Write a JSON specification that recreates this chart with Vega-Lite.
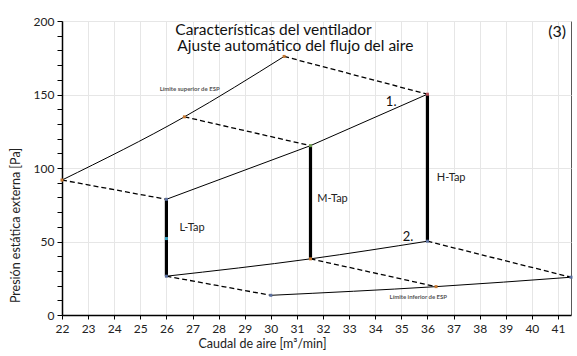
{
  "$schema": "https://vega.github.io/schema/vega-lite/v6.json",
  "width": 509,
  "height": 294,
  "autosize": {"type": "none"},
  "padding": {"left": 62, "top": 21, "right": 6, "bottom": 41},
  "background": "white",
  "config": {
    "font": "Lato",
    "view": {"stroke": "#595959", "strokeWidth": 1},
    "axis": {"labelFont": "Lato", "titleFont": "Lato", "labelColor": "#222", "titleColor": "#222", "titleFontWeight": "normal", "domainColor": "#000", "tickColor": "#000", "gridColor": "#e6e6e6"}
  },
  "datasets": {
    "lines": [
      {"s": "sup", "t": "solid", "o": 1, "x": 22, "y": 91.8},
      {"s": "sup", "t": "solid", "o": 2, "x": 26.69, "y": 134.8},
      {"s": "sup", "t": "solid", "o": 3, "x": 30.51, "y": 175.9},
      {"s": "high", "t": "solid", "o": 1, "x": 31.52, "y": 115.2},
      {"s": "high", "t": "solid", "o": 2, "x": 36, "y": 150.2},
      {"s": "med", "t": "solid", "o": 1, "x": 26, "y": 78.7},
      {"s": "med", "t": "solid", "o": 2, "x": 31.52, "y": 115.2},
      {"s": "low", "t": "solid", "o": 1, "x": 26, "y": 26.4},
      {"s": "low", "t": "solid", "o": 2, "x": 31.52, "y": 38.2},
      {"s": "low", "t": "solid", "o": 3, "x": 36, "y": 50.2},
      {"s": "inf", "t": "solid", "o": 1, "x": 30, "y": 13.4},
      {"s": "inf", "t": "solid", "o": 2, "x": 36.33, "y": 19.3},
      {"s": "inf", "t": "solid", "o": 3, "x": 41.5, "y": 25.7},
      {"s": "d1", "t": "dash", "o": 1, "x": 30.51, "y": 175.9},
      {"s": "d1", "t": "dash", "o": 2, "x": 36, "y": 150.2},
      {"s": "d2", "t": "dash", "o": 1, "x": 26.69, "y": 134.8},
      {"s": "d2", "t": "dash", "o": 2, "x": 31.52, "y": 115.2},
      {"s": "d3", "t": "dash", "o": 1, "x": 22, "y": 91.8},
      {"s": "d3", "t": "dash", "o": 2, "x": 26, "y": 78.7},
      {"s": "d4", "t": "dash", "o": 1, "x": 26, "y": 26.4},
      {"s": "d4", "t": "dash", "o": 2, "x": 30, "y": 13.4},
      {"s": "d5", "t": "dash", "o": 1, "x": 31.52, "y": 38.2},
      {"s": "d5", "t": "dash", "o": 2, "x": 36.33, "y": 19.3},
      {"s": "d6", "t": "dash", "o": 1, "x": 36, "y": 50.2},
      {"s": "d6", "t": "dash", "o": 2, "x": 41.5, "y": 25.7},
      {"s": "v1", "t": "thick", "o": 1, "x": 26, "y": 78.7},
      {"s": "v1", "t": "thick", "o": 2, "x": 26, "y": 26.4},
      {"s": "v2", "t": "thick", "o": 1, "x": 31.52, "y": 115.2},
      {"s": "v2", "t": "thick", "o": 2, "x": 31.52, "y": 38.2},
      {"s": "v3", "t": "thick", "o": 1, "x": 36, "y": 150.2},
      {"s": "v3", "t": "thick", "o": 2, "x": 36, "y": 50.2}
    ],
    "points": [
      {"x": 22, "y": 91.8, "c": "o"},
      {"x": 26.69, "y": 134.8, "c": "o"},
      {"x": 30.51, "y": 175.9, "c": "o"},
      {"x": 31.52, "y": 38.2, "c": "o"},
      {"x": 36.33, "y": 19.3, "c": "o"},
      {"x": 26, "y": 78.7, "c": "b"},
      {"x": 26, "y": 26.4, "c": "b"},
      {"x": 30, "y": 13.4, "c": "b"},
      {"x": 36, "y": 50.2, "c": "b"},
      {"x": 41.5, "y": 25.7, "c": "b"},
      {"x": 36, "y": 150.2, "c": "r"},
      {"x": 31.52, "y": 115.2, "c": "g"},
      {"x": 26, "y": 52, "c": "c"}
    ],
    "labels": [
      {"k": "title", "text": "Características del ventilador", "x": 26.34, "y": 190.4},
      {"k": "title", "text": "Ajuste automático del flujo del aire", "x": 26.42, "y": 179.4},
      {"k": "num3", "text": "(3)", "x": 41.31, "y": 189.3},
      {"k": "esp", "text": "Límite superior de ESP", "x": 26.89, "y": 153.9},
      {"k": "esp", "text": "Límite inferior de ESP", "x": 35.65, "y": 12.5},
      {"k": "num", "text": "1.", "x": 34.61, "y": 145.2},
      {"k": "num", "text": "2.", "x": 35.26, "y": 53.2},
      {"k": "tap", "text": "L-Tap", "x": 26.5, "y": 58.9},
      {"k": "tap", "text": "M-Tap", "x": 31.78, "y": 78.9},
      {"k": "tap", "text": "H-Tap", "x": 36.36, "y": 93}
    ]
  },
  "encoding": {
    "x": {"field": "x", "type": "quantitative", "scale": {"domain": [22, 41.5], "nice": false, "zero": false},
      "axis": {"title": "Caudal de aire [m³/min]", "values": [22,23,24,25,26,27,28,29,30,31,32,33,34,35,36,37,38,39,40,41], "labelFontSize": 12, "titleFontSize": 12.5, "tickSize": 4, "labelPadding": 4, "domainWidth": 1.5, "titleX": 200, "titleY": 32, "titleAlign": "center", "titleBaseline": "alphabetic", "grid": true, "labelFlush": false}},
    "y": {"field": "y", "type": "quantitative", "scale": {"domain": [0, 200], "nice": false},
      "axis": {"title": "Presión estática externa [Pa]", "values": [0,10,20,30,40,50,60,70,80,90,100,110,120,130,140,150,160,170,180,190,200], "labelExpr": "datum.value % 50 === 0 ? datum.label : ''", "labelFontSize": 12, "titleFontSize": 12.5, "tickSize": 5, "labelPadding": 3, "domainWidth": 1.5, "gridOpacity": {"condition": {"test": "datum.value % 50 === 0", "value": 1}, "value": 0}, "titleX": -47, "titleY": 204, "titleAlign": "center", "titleBaseline": "middle", "labelFlush": false}}
  },
  "layer": [
    {
      "data": {"name": "lines"},
      "transform": [{"filter": "datum.t === 'solid'"}],
      "mark": {"type": "line", "color": "#000", "strokeWidth": 1, "interpolate": "monotone"},
      "encoding": {"detail": {"field": "s"}, "order": {"field": "o"}}
    },
    {
      "data": {"name": "lines"},
      "transform": [{"filter": "datum.t === 'dash'"}],
      "mark": {"type": "line", "color": "#000", "strokeWidth": 1.3, "strokeDash": [5, 3]},
      "encoding": {"detail": {"field": "s"}, "order": {"field": "o"}}
    },
    {
      "data": {"name": "lines"},
      "transform": [{"filter": "datum.t === 'thick'"}],
      "mark": {"type": "line", "color": "#000", "strokeWidth": 3.2},
      "encoding": {"detail": {"field": "s"}, "order": {"field": "o"}}
    },
    {
      "data": {"name": "points"},
      "mark": {"type": "square", "size": 9, "opacity": 1, "filled": true},
      "encoding": {"color": {"field": "c", "type": "nominal", "legend": null, "scale": {"domain": ["o", "b", "r", "g", "c"], "range": ["#c5762e", "#5b6f9e", "#b5515b", "#6f9a4f", "#3aa6c6"]}}}
    },
    {
      "data": {"name": "labels"},
      "transform": [{"filter": "datum.k === 'title'"}],
      "mark": {"type": "text", "align": "left", "baseline": "alphabetic", "fontSize": 15.5, "color": "#111"},
      "encoding": {"text": {"field": "text"}}
    },
    {
      "data": {"name": "labels"},
      "transform": [{"filter": "datum.k === 'num3'"}],
      "mark": {"type": "text", "align": "right", "baseline": "alphabetic", "fontSize": 16, "color": "#111"},
      "encoding": {"text": {"field": "text"}}
    },
    {
      "data": {"name": "labels"},
      "transform": [{"filter": "datum.k === 'esp'"}],
      "mark": {"type": "text", "align": "center", "baseline": "middle", "fontSize": 6, "fontWeight": "bold", "color": "#555"},
      "encoding": {"text": {"field": "text"}}
    },
    {
      "data": {"name": "labels"},
      "transform": [{"filter": "datum.k === 'num'"}],
      "mark": {"type": "text", "align": "center", "baseline": "middle", "fontSize": 13, "color": "#111"},
      "encoding": {"text": {"field": "text"}}
    },
    {
      "data": {"name": "labels"},
      "transform": [{"filter": "datum.k === 'tap'"}],
      "mark": {"type": "text", "align": "left", "baseline": "middle", "fontSize": 11, "color": "#222"},
      "encoding": {"text": {"field": "text"}}
    }
  ]
}
